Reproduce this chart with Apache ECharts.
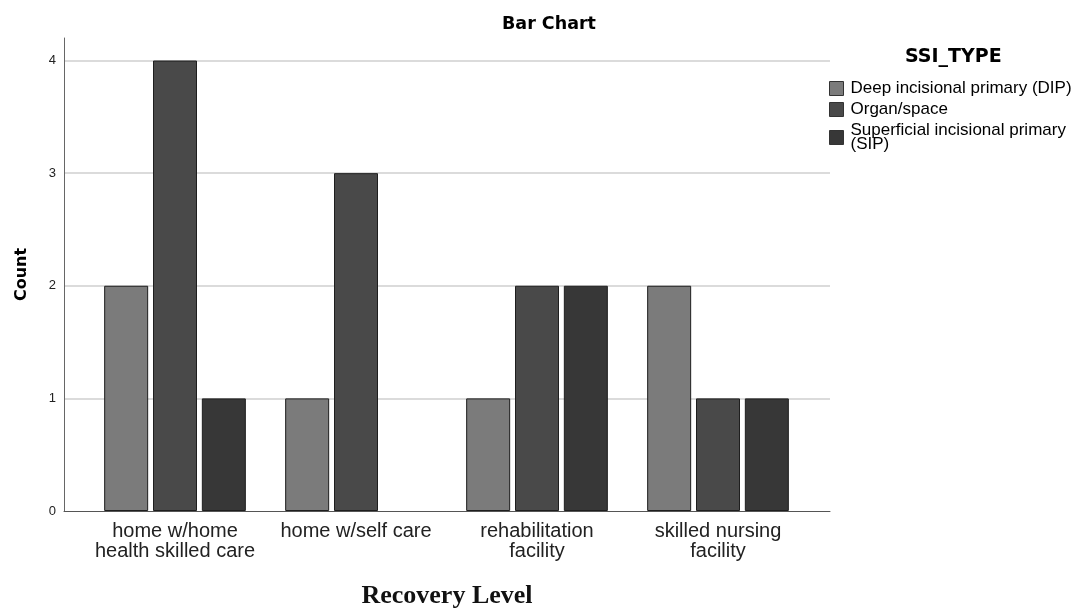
<!DOCTYPE html>
<html><head><meta charset="utf-8">
<script src="https://cdn.jsdelivr.net/npm/echarts@6/dist/echarts.min.js"></script>
<style>html,body{margin:0;padding:0;background:#fff}#c{width:1080px;height:612px}</style>
</head><body><div id="c"></div>
<script>
const categories = ['home w/home\nhealth skilled care', 'home w/self care', 'rehabilitation\nfacility', 'skilled nursing\nfacility'];
const seriesNames = ['Deep incisional primary (DIP)', 'Organ/space', 'Superficial incisional primary\n(SIP)'];
const dipValues = [2, 1, 1, 2];
const organValues = [4, 3, 2, 1];
const sipValues = [1, null, 2, 1];
const yTicks = [0, 1, 2, 3, 4];
const colors = ['#7b7b7b', '#494949', '#373737'];

const font = 'Liberation Sans, Arial, sans-serif';
const boldFont = 'DejaVu Sans, Liberation Sans, sans-serif';
const chart = echarts.init(document.getElementById('c'));
const mkBar = (name, data, i) => ({
  name, type: 'bar', data, xAxisIndex: 0, yAxisIndex: 0,
  barWidth: 44, barGap: '11%',
  itemStyle: { color: colors[i], borderColor: '#1e1e1e', borderWidth: 1 }
});
chart.setOption({
  animation: false,
  title: { text: 'Bar Chart', left: 497, top: 10,
    textStyle: { fontFamily: boldFont, fontSize: 17.5, fontWeight: 'bold', color: '#000' } },
  legend: {
    orient: 'vertical', left: 824, top: 75, itemWidth: 14, itemHeight: 14, itemGap: 4,
    icon: 'rect',
    data: seriesNames,
    itemStyle: { borderColor: '#333', borderWidth: 1 },
    textStyle: { fontFamily: font, fontSize: 17, color: '#000', lineHeight: 14, padding: [0,0,0,2] }
  },
  graphic: [{ type: 'text', left: 905, top: 48,
    style: { text: 'SSI_TYPE', fontFamily: boldFont, fontSize: 19, fontWeight: 'bold', fill: '#000' } }],
  grid: [
    { left: 84.5, right: 271.5, top: 38, bottom: 101, containLabel: false, outerBoundsMode: 'none' },
    { left: 64, right: 250, top: 38, bottom: 101, containLabel: false, outerBoundsMode: 'none' }
  ],
  xAxis: [
    { type: 'category', gridIndex: 0, data: categories,
      axisLine: { show: false }, axisTick: { show: false },
      axisLabel: { interval: 0, fontFamily: font, fontSize: 20, color: '#222', margin: 10, lineHeight: 20 } },
    { type: 'value', gridIndex: 1, min: 0, max: 1,
      axisLine: { show: true, onZero: false, lineStyle: { color: '#555', width: 1 } },
      axisTick: { show: false }, axisLabel: { show: false }, splitLine: { show: false },
      name: 'Recovery Level', nameLocation: 'middle', nameGap: 72,
      nameTextStyle: { fontFamily: 'Liberation Serif, Times New Roman, serif', fontSize: 26, fontWeight: 'bold', color: '#111' } }
  ],
  yAxis: [
    { type: 'value', gridIndex: 0, min: 0, max: 4.2, interval: 1, show: false, splitLine: { show: false } },
    { type: 'value', gridIndex: 1, min: 0, max: 4.2, interval: 1,
      axisLine: { show: true, lineStyle: { color: '#666', width: 1 } },
      axisTick: { show: false },
      axisLabel: { fontFamily: font, fontSize: 13, color: '#222', margin: 8, showMaxLabel: false,
        formatter: v => yTicks.includes(v) ? String(v) : '' },
      splitLine: { show: true, showMaxLine: false, showMinLine: false, lineStyle: { color: '#cfcfcf', width: 1.5 } },
      name: 'Count', nameLocation: 'middle', nameGap: 34, nameRotate: 90,
      nameTextStyle: { fontFamily: boldFont, fontSize: 16, fontWeight: 'bold', color: '#000' } }
  ],
  series: [
    mkBar(seriesNames[0], dipValues, 0),
    mkBar(seriesNames[1], organValues, 1),
    mkBar(seriesNames[2], sipValues, 2)
  ]
});
</script></body></html>
